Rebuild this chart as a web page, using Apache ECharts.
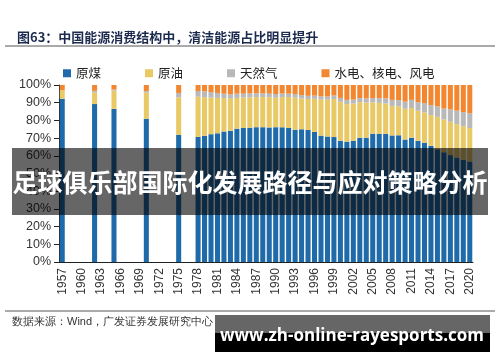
<!DOCTYPE html>
<html><head><meta charset="utf-8">
<script src="https://cdn.jsdelivr.net/npm/echarts@6/dist/echarts.min.js"></script>
<style>html,body{margin:0;padding:0;background:#fff}#c{width:500px;height:362px}</style>
</head><body><div id="c"></div>
<script>
var years = [];
for (var y = 1957; y <= 2020; y++) years.push(String(y));
var dataYears = ['1957','1962','1965','1970','1975','1978','1979','1980','1981','1982','1983','1984','1985','1986','1987','1988','1989','1990','1991','1992','1993','1994','1995','1996','1997','1998','1999','2000','2001','2002','2003','2004','2005','2006','2007','2008','2009','2010','2011','2012','2013','2014','2015','2016','2017','2018','2019','2020'];
var coal = [92.3,89.2,86.5,80.9,71.9,70.7,71.3,72.2,72.7,73.7,74.2,75.3,75.8,75.8,76.2,76.2,76.0,76.2,76.1,75.7,74.7,75.0,74.6,73.5,71.4,70.9,70.6,68.5,68.0,68.5,70.2,70.2,72.4,72.4,72.5,71.5,71.6,69.2,70.2,68.5,67.4,65.6,63.7,62.0,60.4,59.0,57.7,56.8];
var oil = [4.6,6.6,10.3,14.7,21.1,22.7,21.8,20.7,20.0,18.9,18.1,17.4,17.1,17.2,17.0,17.0,17.1,16.6,17.1,17.5,18.2,17.4,17.5,18.7,20.4,20.8,21.5,22.0,21.2,21.0,20.1,19.9,17.8,17.5,17.0,16.7,16.4,17.4,16.8,17.0,17.1,17.4,18.3,18.5,18.8,18.9,19.0,18.9];
var gas = [0.1,0.9,0.6,0.9,2.5,3.2,3.3,3.1,2.8,2.5,2.4,2.4,2.2,2.3,2.1,2.1,2.0,2.1,2.0,1.9,1.9,1.9,1.8,1.8,1.8,1.8,2.0,2.2,2.4,2.3,2.3,2.3,2.4,2.7,3.0,3.4,3.5,4.0,4.6,4.8,5.3,5.7,5.9,6.2,7.0,7.6,8.0,8.4];
var clean = [3.0,3.3,2.6,3.5,4.6,3.4,3.6,4.0,4.5,4.9,5.3,4.9,4.9,4.7,4.7,4.7,4.9,5.1,4.8,4.9,5.2,5.7,6.1,6.0,6.4,6.5,5.9,7.3,8.4,8.2,7.4,7.6,7.4,7.4,7.5,8.4,8.5,9.4,8.4,9.7,10.2,11.3,12.1,13.3,13.8,14.5,15.3,15.9];
var seriesNames = ['原煤','原油','天然气','水电、核电、风电'];
var yTicks = [0,10,20,30,40,50,60,70,80,90,100];

function fill(arr){
  var out = years.map(function(){return null;});
  dataYears.forEach(function(yr,i){ out[years.indexOf(yr)] = arr[i]; });
  return out;
}
var colors = ['#1f6aa8','#e9c966','#b9b9b9','#f2872f'];
var chart = echarts.init(document.getElementById('c'), null, {renderer:'canvas'});
var font = '"Liberation Sans", Arial, sans-serif';
var cjk = '"Noto Sans CJK SC", sans-serif';
chart.setOption({
  animation:false,
  color: colors,
  title:{text:'图63：中国能源消费结构中，清洁能源占比明显提升', left:12, top:26,
    textStyle:{fontSize:13, fontWeight:'bold', color:'#1b2a4e', fontFamily:cjk}},
  legend:{left:58, top:62, itemWidth:8, itemHeight:8, itemGap:44, icon:'rect',
    textStyle:{fontSize:12.5, color:'#222', fontFamily:cjk}, data:seriesNames},
  grid:{left:59, right:27, top:85, bottom:100},
  xAxis:{type:'category', data:years, boundaryGap:true,
    axisLine:{lineStyle:{color:'#222'}},
    axisTick:{interval:2, alignWithLabel:true, lineStyle:{color:'#222'}},
    axisLabel:{interval:2, rotate:90, fontSize:12, color:'#333', fontFamily:font, margin:6}},
  yAxis:{type:'value', min:yTicks[0], max:yTicks[yTicks.length-1], interval:10,
    axisLine:{show:true, lineStyle:{color:'#222'}},
    axisTick:{show:true, lineStyle:{color:'#222'}},
    splitLine:{show:false},
    axisLabel:{formatter:'{value}%', fontSize:12.5, color:'#333', fontFamily:font, margin:8}},
  series: [coal,oil,gas,clean].map(function(arr,i){
    return {name:seriesNames[i], type:'bar', stack:'s', data:fill(arr), barCategoryGap:'22%',
      itemStyle:{color:colors[i]}};
  }),
  graphic:[
    {type:'line', shape:{x1:5,y1:46,x2:495,y2:46}, style:{stroke:'#555', lineWidth:1}},
    {type:'line', shape:{x1:5,y1:311,x2:495,y2:311}, style:{stroke:'#555', lineWidth:1}},
    {type:'text', left:12, top:316, style:{text:'数据来源：Wind，广发证券发展研究中心', fontSize:11, fill:'#333', font:'11px '+cjk}},
    {type:'rect', shape:{x:12,y:148,width:476,height:67}, style:{fill:'rgba(0,0,0,0.6)'}, z:100},
    {type:'text', x:250, y:182, style:{text:'足球俱乐部国际化发展路径与应对策略分析', fill:'#fff', font:'bold 25px '+cjk, textAlign:'center', textVerticalAlign:'middle'}, z:101},
    {type:'rect', shape:{x:215,y:315,width:275,height:19}, style:{fill:'#666'}, z:100},
    {type:'rect', shape:{x:215,y:333,width:275,height:19}, style:{fill:'#000'}, z:100},
    {type:'text', x:352, y:336, style:{text:'www.zh-online-rayesports.com', fill:'#fff', font:'bold 17px "Open Sans", "DejaVu Sans", sans-serif', textAlign:'center', textVerticalAlign:'middle'}, z:101}
  ]
});
</script></body></html>
